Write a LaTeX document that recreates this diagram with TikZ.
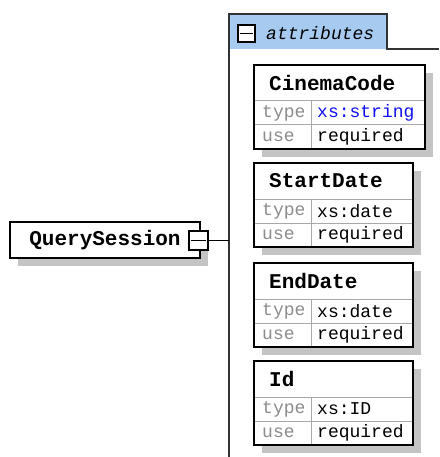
\documentclass[tikz,border=0pt]{standalone}
\usepackage{fontspec}
\setmonofont{Liberation Mono}
\usetikzlibrary{calc}

\begin{document}
\begin{tikzpicture}[x=1pt,y=-1pt,
    box/.style={draw=black,line width=1.5pt,fill=white},
    shade/.style={fill=shadegray,draw=none},
    minus/.style={draw=black,line width=1.3pt,fill=white,minimum size=17pt,inner sep=0pt},
    title/.style={anchor=west,inner sep=0pt,font=\fontsize{21}{21}\selectfont\ttfamily\bfseries},
    key/.style={anchor=west,inner sep=0pt,text=keygray,font=\fontsize{18}{18}\selectfont\ttfamily},
    val/.style={anchor=west,inner sep=0pt,font=\fontsize{18}{18}\selectfont\ttfamily}]
    \definecolor{tabblue}{HTML}{A6CAF0}
    \definecolor{shadegray}{HTML}{C4C4C4}
    \definecolor{rulegray}{HTML}{A8A8A8}
    \definecolor{keygray}{HTML}{8C8C8C}
    \definecolor{xsblue}{HTML}{1010F0}
    \useasboundingbox[fill=white] (0,0) rectangle (439,457);
    \def\lx{254}\def\cx{311}
    % attributes group
    \fill[tabblue] (229,14) rectangle (387,49);
    \draw[line width=1.6pt,black!80] (229,457) -- (229,14) -- (387,14) -- (387,49) -- (439,49);
    \node[minus,minimum size=17pt] (amin) at (246.5,33.5) {};
    \draw[line width=1.3pt] ($(amin.west)+(3,0)$) -- ($(amin.east)+(-3,0)$);
    \node[anchor=west,inner sep=0pt,font=\fontsize{18}{18}\selectfont\ttfamily\itshape] (atts) at (266,33) {attributes};
    \coordinate (grp) at (229,240);
    % one box per attribute
    \foreach \i/\y/\name/\type/\w/\col in {1/65/CinemaCode/xs:string/171/xsblue,
        2/163/StartDate/xs:date/159/black, 3/263/EndDate/xs:date/159/black,
        4/361/Id/xs:ID/159/black} {
      \fill[shadegray] (\lx+8,\y+8) rectangle (\lx+\w+8,\y+92);
      \draw[box] (\lx,\y) rectangle (\lx+\w,\y+84);
      \draw[rulegray,line width=1pt] (\lx+1,\y+36) -- (\lx+\w-1,\y+36)
        (\lx+1,\y+60) -- (\lx+\w-1,\y+60) (\cx,\y+36) -- (\cx,\y+83);
      \node[title] (name\i) at (\lx+15,\y+18) {\name};
      \node[key] (tk\i) at (\lx+8,\y+48) {type};
      \node[val,text=\col] (tv\i) at (\cx+6,\y+48) {\type};
      \node[key] (uk\i) at (\lx+8,\y+72) {use};
      \node[val] (uv\i) at (\cx+6,\y+72) {required};
    }
    % the element
    \fill[shadegray] (18,230) rectangle (208,266);
    \node[box,minimum width=190pt,minimum height=36pt,inner sep=0pt,
      font=\fontsize{21}{21}\selectfont\ttfamily\bfseries] (qs) at (105,240) {QuerySession\hspace{8pt}};
    \node[minus,minimum size=19pt] (qmin) at (198.5,240.5) {};
    \draw[line width=1.3pt] ($(qmin.west)+(3,0)$) -- ($(qmin.east)+(-3,0)$);
    \draw[line width=1.4pt] (qmin.east) -- (qmin.east -| grp);
\end{tikzpicture}
\end{document}
